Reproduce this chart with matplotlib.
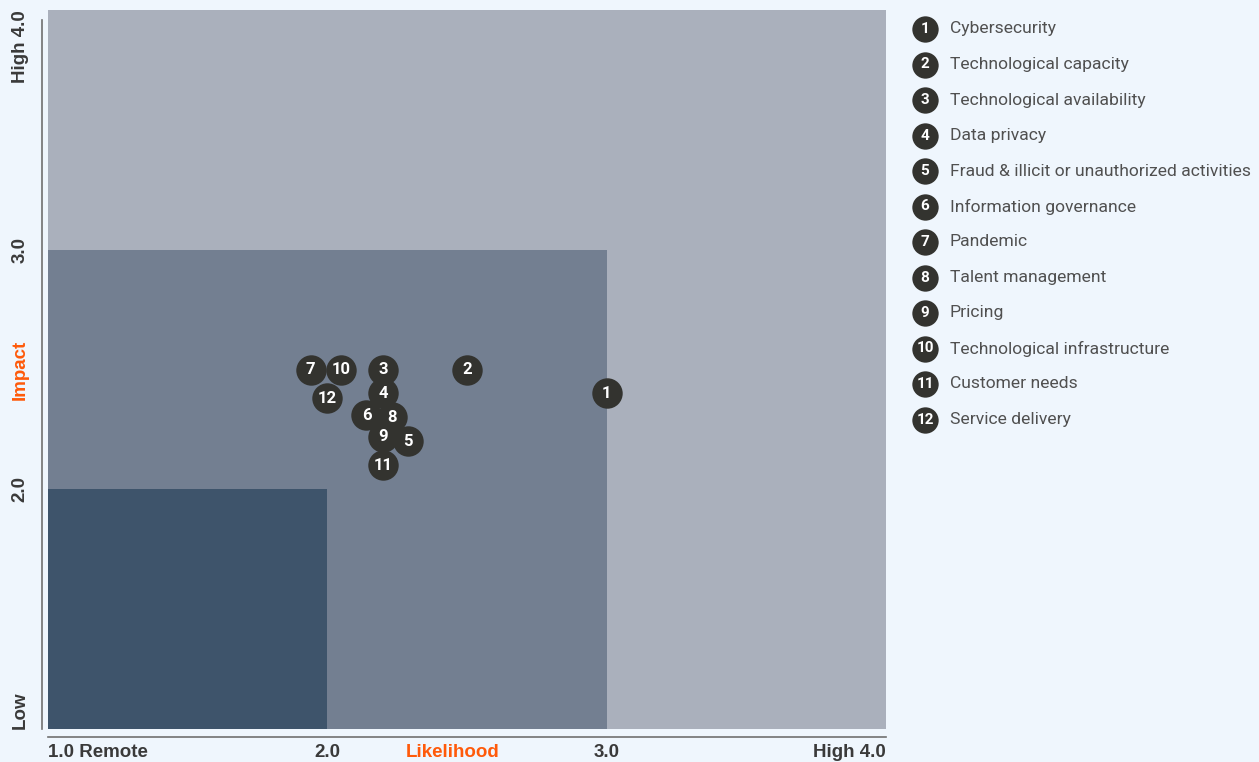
import matplotlib.pyplot as plt
from matplotlib.patches import Rectangle

# Risk heat map data
risk_ids = list(range(1, 13))
risk_names = [
    "Cybersecurity",
    "Technological capacity",
    "Technological availability",
    "Data privacy",
    "Fraud & illicit or unauthorized activities",
    "Information governance",
    "Pandemic",
    "Talent management",
    "Pricing",
    "Technological infrastructure",
    "Customer needs",
    "Service delivery",
]
likelihood = [3.0, 2.5, 2.2, 2.2, 2.29, 2.14, 1.94, 2.23, 2.2, 2.05, 2.2, 2.0]
impact = [2.4, 2.5, 2.5, 2.4, 2.2, 2.31, 2.5, 2.3, 2.22, 2.5, 2.1, 2.38]

# Nested zones: upper bound of each square (lower bound is 1.0)
zone_limits = [4.0, 3.0, 2.0]
zone_colors = ["#aab0bc", "#737f91", "#3e546b"]

x_ticks = [1.0, 2.0, 3.0, 4.0]
x_labels = ["1.0 Remote", "2.0", "3.0", "High 4.0"]
y_ticks = [1.0, 2.0, 3.0, 4.0]
y_labels = ["Low", "2.0", "3.0", "High 4.0"]

bg = "#eff6fd"
orange = "#ff5a0a"
dot = "#33332f"
label_col = "#3a3a3a"

plt.rcParams["font.family"] = ["Roboto", "DejaVu Sans"]

W, H = 1259, 762
fig = plt.figure(figsize=(W / 100, H / 100), dpi=100, facecolor=bg)
ax = fig.add_axes([48 / W, 33 / H, 838 / W, 719 / H])
ax.set_xlim(1, 4)
ax.set_ylim(1, 4)
ax.set_facecolor(bg)
for s in ax.spines.values():
    s.set_visible(False)
ax.set_xticks([])
ax.set_yticks([])

for lim, col in zip(zone_limits, zone_colors):
    ax.add_patch(Rectangle((1, 1), lim - 1, lim - 1, facecolor=col, edgecolor="none", zorder=1))

ax.scatter(likelihood, impact, s=480, color=dot, zorder=3, linewidths=0)
for i, x, y in zip(risk_ids, likelihood, impact):
    ax.text(x, y, str(i), color="white", fontsize=12, fontweight="bold",
            ha="center", va="center", zorder=4)

# Axis lines just outside the plotting area
ax.plot([1, 4], [0.967, 0.967], color="#707070", lw=1.2, clip_on=False)
ax.plot([0.979, 0.979], [1.0, 3.96], color="#707070", lw=1.2, clip_on=False)

# Tick labels
lbl = dict(fontsize=13.5, fontweight="bold", color=label_col, family=["Liberation Sans"])
for t, s in zip(x_ticks, x_labels):
    ha = "left" if t == 1.0 else ("right" if t == 4.0 else "center")
    ax.text(t, 0.904, s, ha=ha, va="center", **lbl)
for t, s in zip(y_ticks, y_labels):
    va = "bottom" if t == 1.0 else ("top" if t == 4.0 else "center")
    ax.text(0.9, t, s, ha="center", va=va, rotation=90, **lbl)
ax.text(2.45, 0.904, "Likelihood", ha="center", va="center", fontsize=13.5,
        fontweight="bold", color=orange, family=["Liberation Sans"])
ax.text(0.9, 2.5, "Impact", ha="center", va="center", rotation=90, fontsize=13.5,
        fontweight="bold", color=orange, family=["Liberation Sans"])

# Legend list on the right, in pixel coordinates
lax = fig.add_axes([0, 0, 1, 1])
lax.set_xlim(0, W)
lax.set_ylim(H, 0)
lax.axis("off")
leg_y = [29 + 35.5 * k for k in range(len(risk_ids))]
lax.scatter([925] * len(leg_y), leg_y, s=360, color=dot, linewidths=0)
for i, y, name in zip(risk_ids, leg_y, risk_names):
    lax.text(925, y, str(i), color="white", fontsize=11, fontweight="bold",
             ha="center", va="center")
    lax.text(950, y, name, color="#505050", fontsize=12.6,
             ha="left", va="center")

fig.savefig("out.png", dpi=100, facecolor=bg)
